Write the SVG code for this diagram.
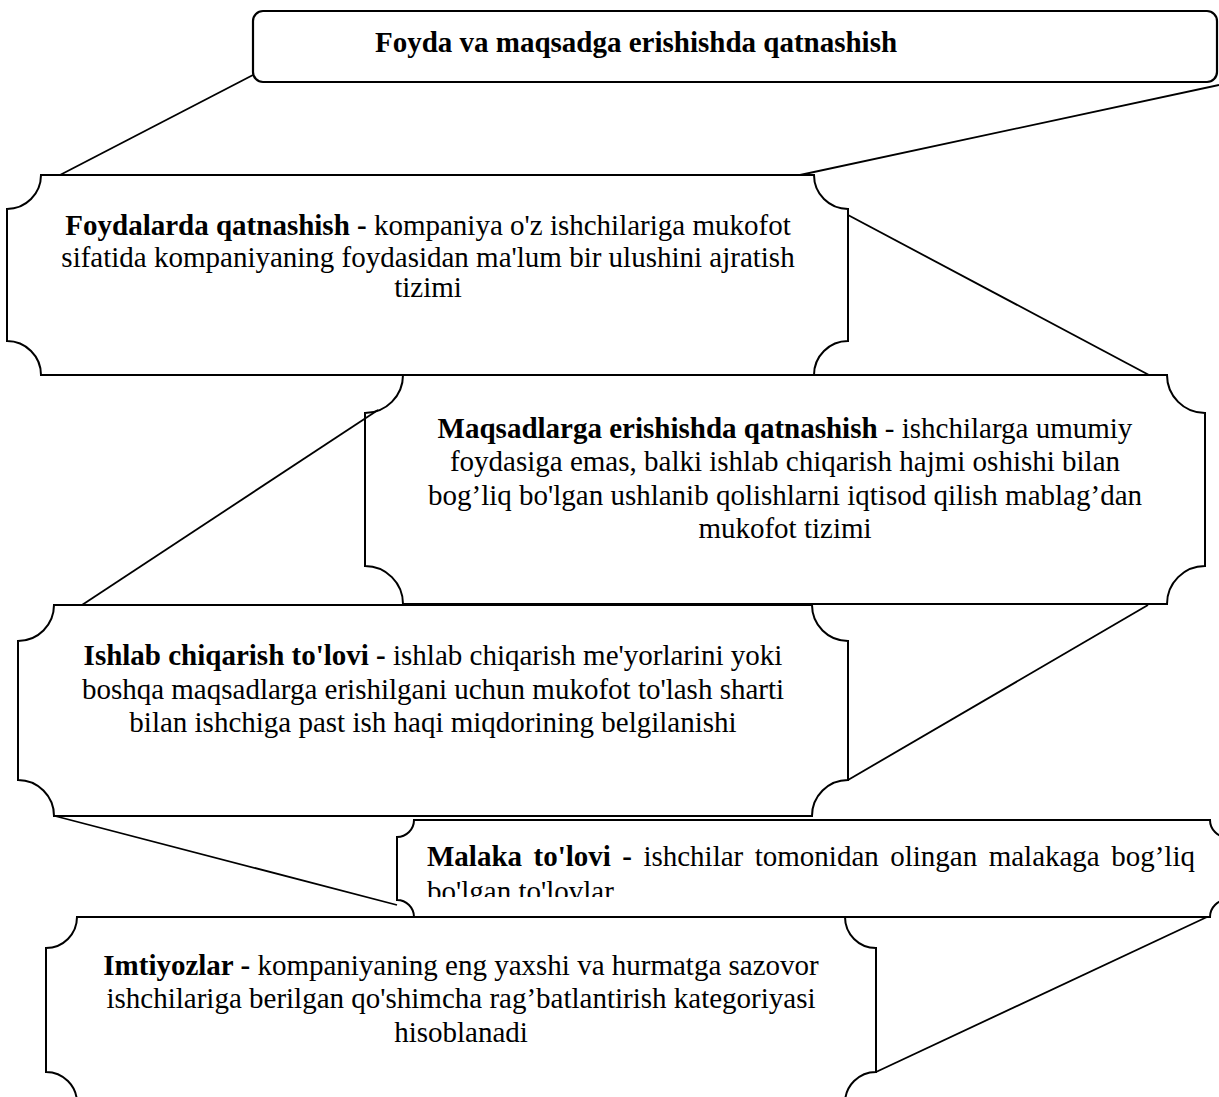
<svg xmlns="http://www.w3.org/2000/svg" width="1219" height="1097" viewBox="0 0 1219 1097">
<style>
  .frame { fill: #ffffff; stroke: #000000; stroke-width: 2; }
  .top { fill: #ffffff; stroke: #000000; stroke-width: 2.2; }
  .conn line { stroke: #000000; stroke-width: 1.8; }
  text { font-family: "Liberation Serif", "Times New Roman", serif; font-size: 29px; fill: #000000; }
  .c { text-anchor: middle; }
  .b { font-weight: bold; }
</style>
<defs>
  <clipPath id="clip4"><rect x="397" y="820" width="822" height="77"/></clipPath>
</defs>

<g id="node-title">
  <rect class="top" x="253" y="11" width="964" height="71" rx="10" ry="10"/>
  <text class="c b" x="636" y="52">Foyda va maqsadga erishishda qatnashish</text>
</g>

<g id="node-foydalarda">
  <path class="frame" d="M41,175 H814 A34,34 0 0 0 848,209 V341 A34,34 0 0 0 814,375 H41 A34,34 0 0 0 7,341 V209 A34,34 0 0 0 41,175 Z"/>
  <text class="c" x="428" y="235"><tspan class="b">Foydalarda qatnashish -</tspan> kompaniya o'z ishchilariga mukofot</text>
  <text class="c" x="428" y="267">sifatida kompaniyaning foydasidan ma'lum bir ulushini ajratish</text>
  <text class="c" x="428" y="297">tizimi</text>
</g>

<g id="node-maqsadlarga">
  <path class="frame" d="M403,375 H1167 A38,38 0 0 0 1205,413 V566 A38,38 0 0 0 1167,604 H403 A38,38 0 0 0 365,566 V413 A38,38 0 0 0 403,375 Z"/>
  <text class="c" x="785" y="438"><tspan class="b">Maqsadlarga erishishda qatnashish</tspan> - ishchilarga umumiy</text>
  <text class="c" x="785" y="471">foydasiga emas, balki ishlab chiqarish hajmi oshishi bilan</text>
  <text class="c" x="785" y="505">bog’liq bo'lgan ushlanib qolishlarni iqtisod qilish mablag’dan</text>
  <text class="c" x="785" y="538">mukofot tizimi</text>
</g>

<g id="node-ishlab">
  <path class="frame" d="M54,605 H812 A36,36 0 0 0 848,641 V780 A36,36 0 0 0 812,816 H54 A36,36 0 0 0 18,780 V641 A36,36 0 0 0 54,605 Z"/>
  <text class="c" x="433" y="665"><tspan class="b">Ishlab chiqarish to'lovi -</tspan> ishlab chiqarish me'yorlarini yoki</text>
  <text class="c" x="433" y="699">boshqa maqsadlarga erishilgani uchun mukofot to'lash sharti</text>
  <text class="c" x="433" y="732">bilan ishchiga past ish haqi miqdorining belgilanishi</text>
</g>

<g id="node-malaka">
  <path class="frame" d="M414,820 H1210 A17,17 0 0 0 1227,837 V900 A17,17 0 0 0 1210,917 H414 A17,17 0 0 0 397,900 V837 A17,17 0 0 0 414,820 Z"/>
  <g clip-path="url(#clip4)">
    <text x="427" y="866" word-spacing="4.2"><tspan class="b">Malaka to'lovi -</tspan> ishchilar tomonidan olingan malakaga bog’liq</text>
    <text x="427" y="901">bo'lgan to'lovlar</text>
  </g>
</g>

<g id="node-imtiyozlar">
  <path class="frame" d="M77,917 H845 A31,31 0 0 0 876,948 V1072 A31,31 0 0 0 845,1103 H77 A31,31 0 0 0 46,1072 V948 A31,31 0 0 0 77,917 Z"/>
  <text class="c" x="461" y="975"><tspan class="b">Imtiyozlar -</tspan> kompaniyaning eng yaxshi va hurmatga sazovor</text>
  <text class="c" x="461" y="1008">ishchilariga berilgan qo'shimcha rag’batlantirish kategoriyasi</text>
  <text class="c" x="461" y="1042">hisoblanadi</text>
</g>

<g id="connectors" class="conn">
  <line x1="253" y1="75" x2="60" y2="175"/>
  <line x1="1219" y1="85" x2="800" y2="175"/>
  <line x1="848" y1="215" x2="1149" y2="375"/>
  <line x1="378" y1="410" x2="82" y2="605"/>
  <line x1="848" y1="780" x2="1148" y2="605"/>
  <line x1="55" y1="816" x2="397" y2="905"/>
  <line x1="1207" y1="917" x2="876" y2="1072"/>
</g>
</svg>
